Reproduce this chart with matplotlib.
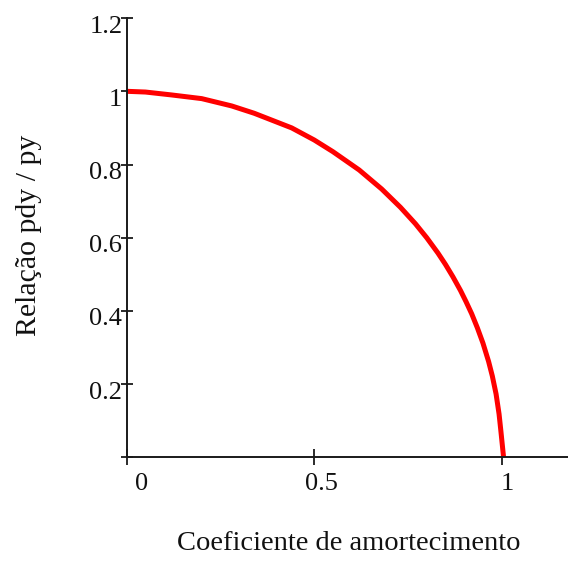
import matplotlib
matplotlib.use("Agg")
import matplotlib.pyplot as plt
from matplotlib.transforms import ScaledTranslation

# Data
coef_amortecimento = [0.0, 0.05, 0.12, 0.20, 0.28, 0.34, 0.39, 0.44, 0.50, 0.55,
                      0.62, 0.68, 0.73, 0.77, 0.80, 0.83, 0.85, 0.87, 0.89, 0.905,
                      0.92, 0.935, 0.95, 0.965, 0.975, 0.985, 0.993, 0.998, 1.002,
                      1.005]
relacao_pdy_py = [1.0, 0.998, 0.99, 0.98, 0.96, 0.94, 0.92, 0.90, 0.867, 0.835,
                  0.785, 0.733, 0.683, 0.638, 0.60, 0.558, 0.527, 0.493, 0.456,
                  0.425, 0.392, 0.354, 0.312, 0.262, 0.222, 0.173, 0.118, 0.07,
                  0.03, 0.0]

x_ticks = [0, 0.5, 1]
x_tick_labels = ["0", "0.5", "1"]
y_ticks = [0, 0.2, 0.4, 0.6, 0.8, 1.0, 1.2]
y_tick_labels = ["", "0.2", "0.4", "0.6", "0.8", "1", "1.2"]

W, H = 568, 561
DPI = 100
fig = plt.figure(figsize=(W / DPI, H / DPI), dpi=DPI)
plt.rcParams['font.family'] = ['Liberation Serif', 'DejaVu Serif']

x0_px, y0_px, ytop_px = 126.7, 457.3, 18.1
ax = fig.add_axes([x0_px / W, (H - y0_px) / H, (W - x0_px) / W, (y0_px - ytop_px) / H])
ax.plot(coef_amortecimento, relacao_pdy_py, color="#ff0000", lw=3.6,
        solid_joinstyle="round", solid_capstyle="butt")

ax.set_xlim(0, (W - x0_px) / 375.0)
ax.set_ylim(0, 1.2)

for s in ("top", "right"):
    ax.spines[s].set_visible(False)
for s in ("left", "bottom"):
    ax.spines[s].set_color("#1a1a1a")
    ax.spines[s].set_linewidth(1.4)

ax.set_xticks(x_ticks)
ax.set_xticklabels(x_tick_labels)
ax.set_yticks(y_ticks)
ax.set_yticklabels(y_tick_labels)

fs = 19
ax.tick_params(axis="x", direction="inout", length=11.5, width=1.3, color="#1a1a1a",
               labelsize=fs, pad=5.5, labelcolor="#111111")
ax.tick_params(axis="y", direction="inout", length=8.5, width=1.3, color="#1a1a1a",
               labelsize=fs, pad=0, labelcolor="#111111")

# per-label offsets to mimic the original placement (pixels)
x_offsets = [15, 7, 6]
for lab, dx in zip(ax.get_xticklabels(), x_offsets):
    lab.set_transform(lab.get_transform() + ScaledTranslation(dx / DPI, 0, fig.dpi_scale_trans))
for lab in ax.get_yticklabels():
    lab.set_transform(lab.get_transform() + ScaledTranslation(1.5 / DPI, -6 / DPI, fig.dpi_scale_trans))

ax.set_xlabel("Coeficiente de amortecimento", fontsize=20.5, color="#111111", va="center")
ax.set_ylabel("Relação pdy / py", fontsize=21.5, color="#111111", va="center")
aw = W - x0_px
ah = y0_px - ytop_px
ax.xaxis.set_label_coords((349 - x0_px) / aw, (y0_px - 544) / ah)
ax.yaxis.set_label_coords((29 - x0_px) / aw, (y0_px - 235) / ah)

ax.patch.set_alpha(0)
fig.savefig("out.png", dpi=DPI)
